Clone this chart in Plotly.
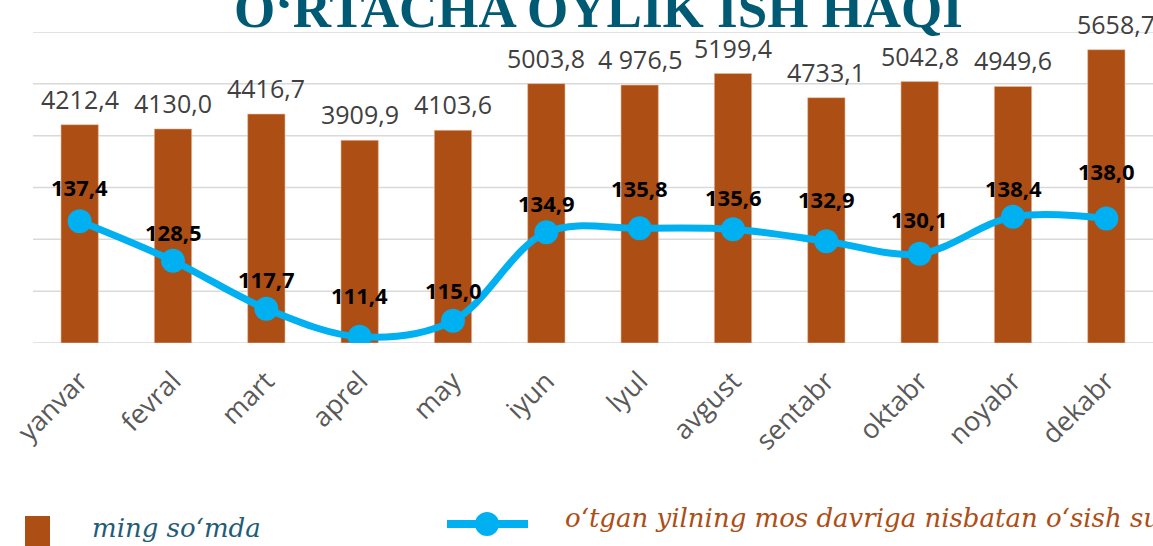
import plotly.graph_objects as go

months = ["yanvar", "fevral", "mart", "aprel", "may", "iyun", "iyul", "avgust",
          "sentabr", "oktabr", "noyabr", "dekabr"]
wage = [4212.4, 4130.0, 4416.7, 3909.9, 4103.6, 5003.8, 4976.5, 5199.4,
        4733.1, 5042.8, 4949.6, 5658.7]
wage_labels = ["4212,4", "4130,0", "4416,7", "3909,9", "4103,6", "5003,8", "4 976,5",
               "5199,4", "4733,1", "5042,8", "4949,6", "5658,7"]
growth = [137.4, 128.5, 117.7, 111.4, 115.0, 134.9, 135.8, 135.6, 132.9, 130.1, 138.4, 138.0]
growth_labels = ["137,4", "128,5", "117,7", "111,4", "115,0", "134,9", "135,8", "135,6",
                 "132,9", "130,1", "138,4", "138,0"]
tick_labels = ["yanvar", "fevral", "mart", "aprel", "may", "iyun", "lyul", "avgust",
               "sentabr", "oktabr", "noyabr", "dekabr"]
grid_values = [0, 1000, 2000, 3000, 4000, 5000, 6000]

title_text = "O‘RTACHA OYLIK ISH HAQI"
legend_bar = "ming so‘mda"
legend_line = "o‘tgan yilning mos davriga nisbatan o‘sish sur’ati, foizda"

# label offsets (pixels) - style only
bar_label_shift = 26
line_label_shift = [34, 29, 30, 42, 31, 29, 40, 32, 42, 35, 29, 48]

BROWN = "#AD4E14"
BLUE = "#00B0F0"
TEAL = "#005A73"
GRID = "#D9D9D9"

W, H = 1153, 546
L, R, T, B = 33, 0, 32, 203

fig = go.Figure()
fig.add_trace(go.Bar(x=months, y=wage, marker=dict(color=BROWN, line=dict(color="#E8C0A0", width=0.6)),
                     yaxis="y", showlegend=False))
fig.add_trace(go.Scatter(x=months, y=growth, yaxis="y2", mode="lines+markers",
                         line=dict(color=BLUE, width=7, shape="spline", smoothing=1.0),
                         marker=dict(color=BLUE, size=24), showlegend=False))

ann = []
for i, (m, v, t) in enumerate(zip(months, wage, wage_labels)):
    ann.append(dict(x=m, y=v, xref="x", yref="y", text=t, showarrow=False, yanchor="middle",
                    yshift=bar_label_shift, xshift=(10 if i == len(months) - 1 else 0),
                    font=dict(family="Open Sans", size=25, color="#404040")))
for m, v, t, s in zip(months, growth, growth_labels, line_label_shift):
    ann.append(dict(x=m, y=v, xref="x", yref="y2", text="<b>" + t + "</b>", showarrow=False,
                    yanchor="middle", yshift=s, font=dict(family="Open Sans", size=22, color="#000000")))

plot_w = W - L - R
plot_h = H - T - B
def px_x(p):
    return (p - L) / plot_w
def px_y(p):
    return (H - B - p) / plot_h

# title
ann.append(dict(x=px_x(598), y=px_y(40), xref="paper", yref="paper", text="<b>" + title_text + "</b>",
                showarrow=False, xanchor="center", yanchor="bottom",
                font=dict(family="Liberation Serif", size=53, color=TEAL)))
# legend texts
ann.append(dict(x=px_x(90), y=px_y(528), xref="paper", yref="paper", text="<i>" + legend_bar + "</i>",
                showarrow=False, xanchor="left", yanchor="middle",
                font=dict(family="DejaVu Serif", size=26, color="#1F5D77")))
ann.append(dict(x=px_x(563), y=px_y(518), xref="paper", yref="paper", text="<i>" + legend_line + "</i>",
                showarrow=False, xanchor="left", yanchor="middle",
                font=dict(family="DejaVu Serif", size=26, color=BROWN)))

shapes = [
    dict(type="line", xref="paper", yref="y", x0=0, x1=1, y0=g, y1=g, layer="below",
         line=dict(color=GRID, width=1.5)) for g in grid_values
]
shapes += [
    dict(type="rect", xref="paper", yref="paper", x0=px_x(25), x1=px_x(50), y0=px_y(516), y1=px_y(550),
         fillcolor=BROWN, line=dict(width=0)),
    dict(type="line", xref="paper", yref="paper", x0=px_x(447), x1=px_x(528), y0=px_y(524), y1=px_y(524),
         line=dict(color=BLUE, width=8)),
    dict(type="circle", xref="paper", yref="paper", x0=px_x(475), x1=px_x(499), y0=px_y(512), y1=px_y(536),
         fillcolor=BLUE, line=dict(width=0)),
]

fig.update_layout(
    width=W, height=H,
    margin=dict(l=L, r=R, t=T, b=B, pad=0),
    paper_bgcolor="white", plot_bgcolor="white",
    bargap=0.6,
    xaxis=dict(tickmode="array", tickvals=months, ticktext=tick_labels, tickangle=-45,
               range=[-0.5, 11.5],
               tickfont=dict(family="Open Sans", size=27, color="#595959"),
               showgrid=False, showline=False, zeroline=False, ticks="", ticklabelstandoff=16),
    yaxis=dict(range=[0, 6000], showticklabels=False, showgrid=False,
               zeroline=False, showline=False),
    yaxis2=dict(range=[110, 180], overlaying="y", side="right", showgrid=False,
                showticklabels=False, zeroline=False, showline=False),
    annotations=ann, shapes=shapes, showlegend=False,
)

fig.write_html("out.html", config={"displayModeBar": False},
               post_script="document.body.style.margin='0';")
